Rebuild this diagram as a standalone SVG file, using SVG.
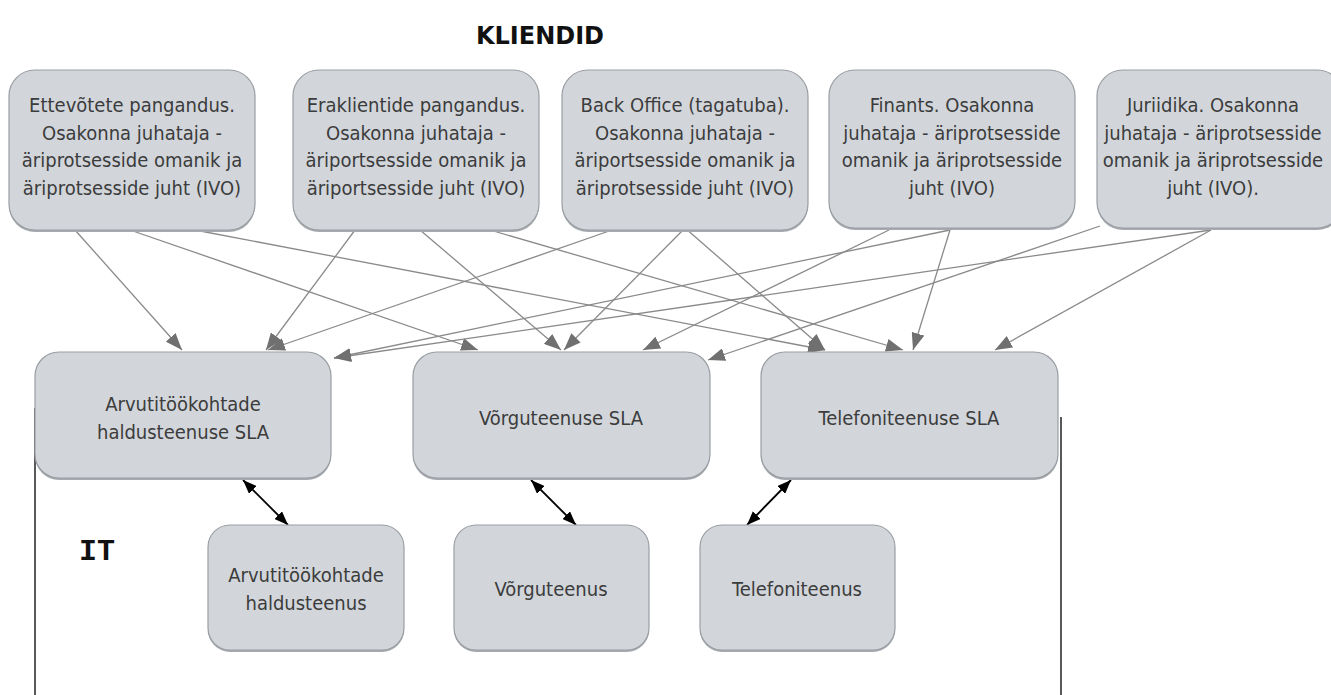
<svg xmlns="http://www.w3.org/2000/svg" width="1331" height="695" viewBox="0 0 1331 695">
  <style>
    .box { fill: #d2d6db; stroke: #9a9ea3; stroke-width: 1.2; }
    .shadow { fill: #a7abb0; }
    .lbl { font-family: 'DejaVu Sans Condensed', 'DejaVu Sans', sans-serif; font-stretch: condensed; font-size: 20px; fill: #3c3c3c; text-anchor: middle; }
    .title { font-family: 'DejaVu Sans', 'Open Sans', sans-serif; font-weight: bold; font-size: 24px; fill: #111; text-anchor: middle; }
    .it { font-family: 'Liberation Mono', 'DejaVu Sans Mono', monospace; font-weight: bold; font-size: 30px; fill: #111; }
    .link { stroke: #8a8a8a; stroke-width: 1.3; fill: none; marker-end: url(#headGray); }
    .dbl { stroke: #000; stroke-width: 1.8; fill: none; marker-start: url(#headBlack); marker-end: url(#headBlack); }
    .frame { stroke: #222; stroke-width: 1.5; fill: none; }
  </style>
  <defs>
    <marker id="headGray" viewBox="0 0 17 13" refX="17" refY="6.5" markerWidth="17" markerHeight="13" markerUnits="userSpaceOnUse" orient="auto">
      <path d="M0,0 L17,6.5 L0,13 Z" fill="#707070"/>
    </marker>
    <marker id="headBlack" viewBox="0 0 14 11" refX="14" refY="5.5" markerWidth="14" markerHeight="11" markerUnits="userSpaceOnUse" orient="auto-start-reverse">
      <path d="M0,0 L14,5.5 L0,11 Z" fill="#000"/>
    </marker>
  </defs>

  <rect width="1331" height="695" fill="#fff"/>

  <!-- section titles -->
  <text class="title" x="540" y="44">KLIENDID</text>
  <text class="it" x="79" y="560">IT</text>

  <!-- IT frame (open at top and bottom) -->
  <g id="it-frame">
    <line class="frame" x1="35" y1="408" x2="35" y2="695"/>
    <line class="frame" x1="1061" y1="417" x2="1061" y2="695"/>
  </g>

  <!-- client to SLA links -->
  <g id="connectors">
    <line class="link" x1="75" y1="230" x2="182" y2="350"/>
    <line class="link" x1="130" y1="230" x2="478" y2="350"/>
    <line class="link" x1="195" y1="230" x2="825" y2="350"/>
    <line class="link" x1="355" y1="230" x2="266" y2="350"/>
    <line class="link" x1="420" y1="230" x2="561" y2="350"/>
    <line class="link" x1="490" y1="230" x2="903" y2="350"/>
    <line class="link" x1="612" y1="230" x2="268" y2="350"/>
    <line class="link" x1="685" y1="228" x2="564" y2="350"/>
    <line class="link" x1="685" y1="228" x2="825" y2="350"/>
    <line class="link" x1="950" y1="230" x2="334" y2="358"/>
    <line class="link" x1="889" y1="230" x2="643" y2="350"/>
    <line class="link" x1="950" y1="230" x2="913" y2="350"/>
    <line class="link" x1="1211" y1="230" x2="334" y2="358"/>
    <line class="link" x1="1100" y1="226" x2="708" y2="360"/>
    <line class="link" x1="1211" y1="230" x2="995" y2="350"/>
    <!-- SLA to service links -->
    <line class="dbl" x1="243" y1="480" x2="288" y2="525"/>
    <line class="dbl" x1="531" y1="480" x2="576" y2="525"/>
    <line class="dbl" x1="791" y1="480" x2="747" y2="525"/>
  </g>

  <!-- clients -->
  <g id="client-ettevotted">
    <rect class="shadow" x="9" y="72" width="246" height="160" rx="26"/>
    <rect class="box" x="9" y="70" width="246" height="160" rx="26"/>
    <text class="lbl" x="132" y="112">Ettevõtete pangandus.</text>
    <text class="lbl" x="132" y="140">Osakonna juhataja -</text>
    <text class="lbl" x="132" y="167">äriprotsesside omanik ja</text>
    <text class="lbl" x="132" y="195">äriprotsesside juht (IVO)</text>
  </g>
  <g id="client-eraklient">
    <rect class="shadow" x="293" y="72" width="246" height="160" rx="26"/>
    <rect class="box" x="293" y="70" width="246" height="160" rx="26"/>
    <text class="lbl" x="416" y="112">Eraklientide pangandus.</text>
    <text class="lbl" x="416" y="140">Osakonna juhataja -</text>
    <text class="lbl" x="416" y="167">äriportsesside omanik ja</text>
    <text class="lbl" x="416" y="195">äriportsesside juht (IVO)</text>
  </g>
  <g id="client-backoffice">
    <rect class="shadow" x="562" y="72" width="246" height="160" rx="26"/>
    <rect class="box" x="562" y="70" width="246" height="160" rx="26"/>
    <text class="lbl" x="685" y="112">Back Office (tagatuba).</text>
    <text class="lbl" x="685" y="140">Osakonna juhataja -</text>
    <text class="lbl" x="685" y="167">äriportsesside omanik ja</text>
    <text class="lbl" x="685" y="195">äriprotsesside juht (IVO)</text>
  </g>
  <g id="client-finants">
    <rect class="shadow" x="829" y="72" width="246" height="158" rx="26"/>
    <rect class="box" x="829" y="70" width="246" height="158" rx="26"/>
    <text class="lbl" x="952" y="112">Finants. Osakonna</text>
    <text class="lbl" x="952" y="140">juhataja - äriprotsesside</text>
    <text class="lbl" x="952" y="167">omanik ja äriprotsesside</text>
    <text class="lbl" x="952" y="195">juht (IVO)</text>
  </g>
  <g id="client-juriidika">
    <rect class="shadow" x="1097" y="72" width="246" height="158" rx="26"/>
    <rect class="box" x="1097" y="70" width="246" height="158" rx="26"/>
    <text class="lbl" x="1213" y="112">Juriidika. Osakonna</text>
    <text class="lbl" x="1213" y="140">juhataja - äriprotsesside</text>
    <text class="lbl" x="1213" y="167">omanik ja äriprotsesside</text>
    <text class="lbl" x="1213" y="195">juht (IVO).</text>
  </g>

  <!-- SLAs -->
  <g id="sla-arvuti">
    <rect class="shadow" x="35" y="354" width="296" height="126" rx="24"/>
    <rect class="box" x="35" y="352" width="296" height="126" rx="24"/>
    <text class="lbl" x="183" y="411">Arvutitöökohtade</text>
    <text class="lbl" x="183" y="439">haldusteenuse SLA</text>
  </g>
  <g id="sla-vork">
    <rect class="shadow" x="413" y="354" width="297" height="126" rx="24"/>
    <rect class="box" x="413" y="352" width="297" height="126" rx="24"/>
    <text class="lbl" x="561" y="425">Võrguteenuse SLA</text>
  </g>
  <g id="sla-telefon">
    <rect class="shadow" x="761" y="354" width="297" height="126" rx="24"/>
    <rect class="box" x="761" y="352" width="297" height="126" rx="24"/>
    <text class="lbl" x="909" y="425">Telefoniteenuse SLA</text>
  </g>

  <!-- services -->
  <g id="svc-arvuti">
    <rect class="shadow" x="208" y="527" width="196" height="125" rx="22"/>
    <rect class="box" x="208" y="525" width="196" height="125" rx="22"/>
    <text class="lbl" x="306" y="582">Arvutitöökohtade</text>
    <text class="lbl" x="306" y="610">haldusteenus</text>
  </g>
  <g id="svc-vork">
    <rect class="shadow" x="454" y="527" width="195" height="125" rx="22"/>
    <rect class="box" x="454" y="525" width="195" height="125" rx="22"/>
    <text class="lbl" x="551" y="596">Võrguteenus</text>
  </g>
  <g id="svc-telefon">
    <rect class="shadow" x="700" y="527" width="195" height="125" rx="22"/>
    <rect class="box" x="700" y="525" width="195" height="125" rx="22"/>
    <text class="lbl" x="797" y="596">Telefoniteenus</text>
  </g>
</svg>
